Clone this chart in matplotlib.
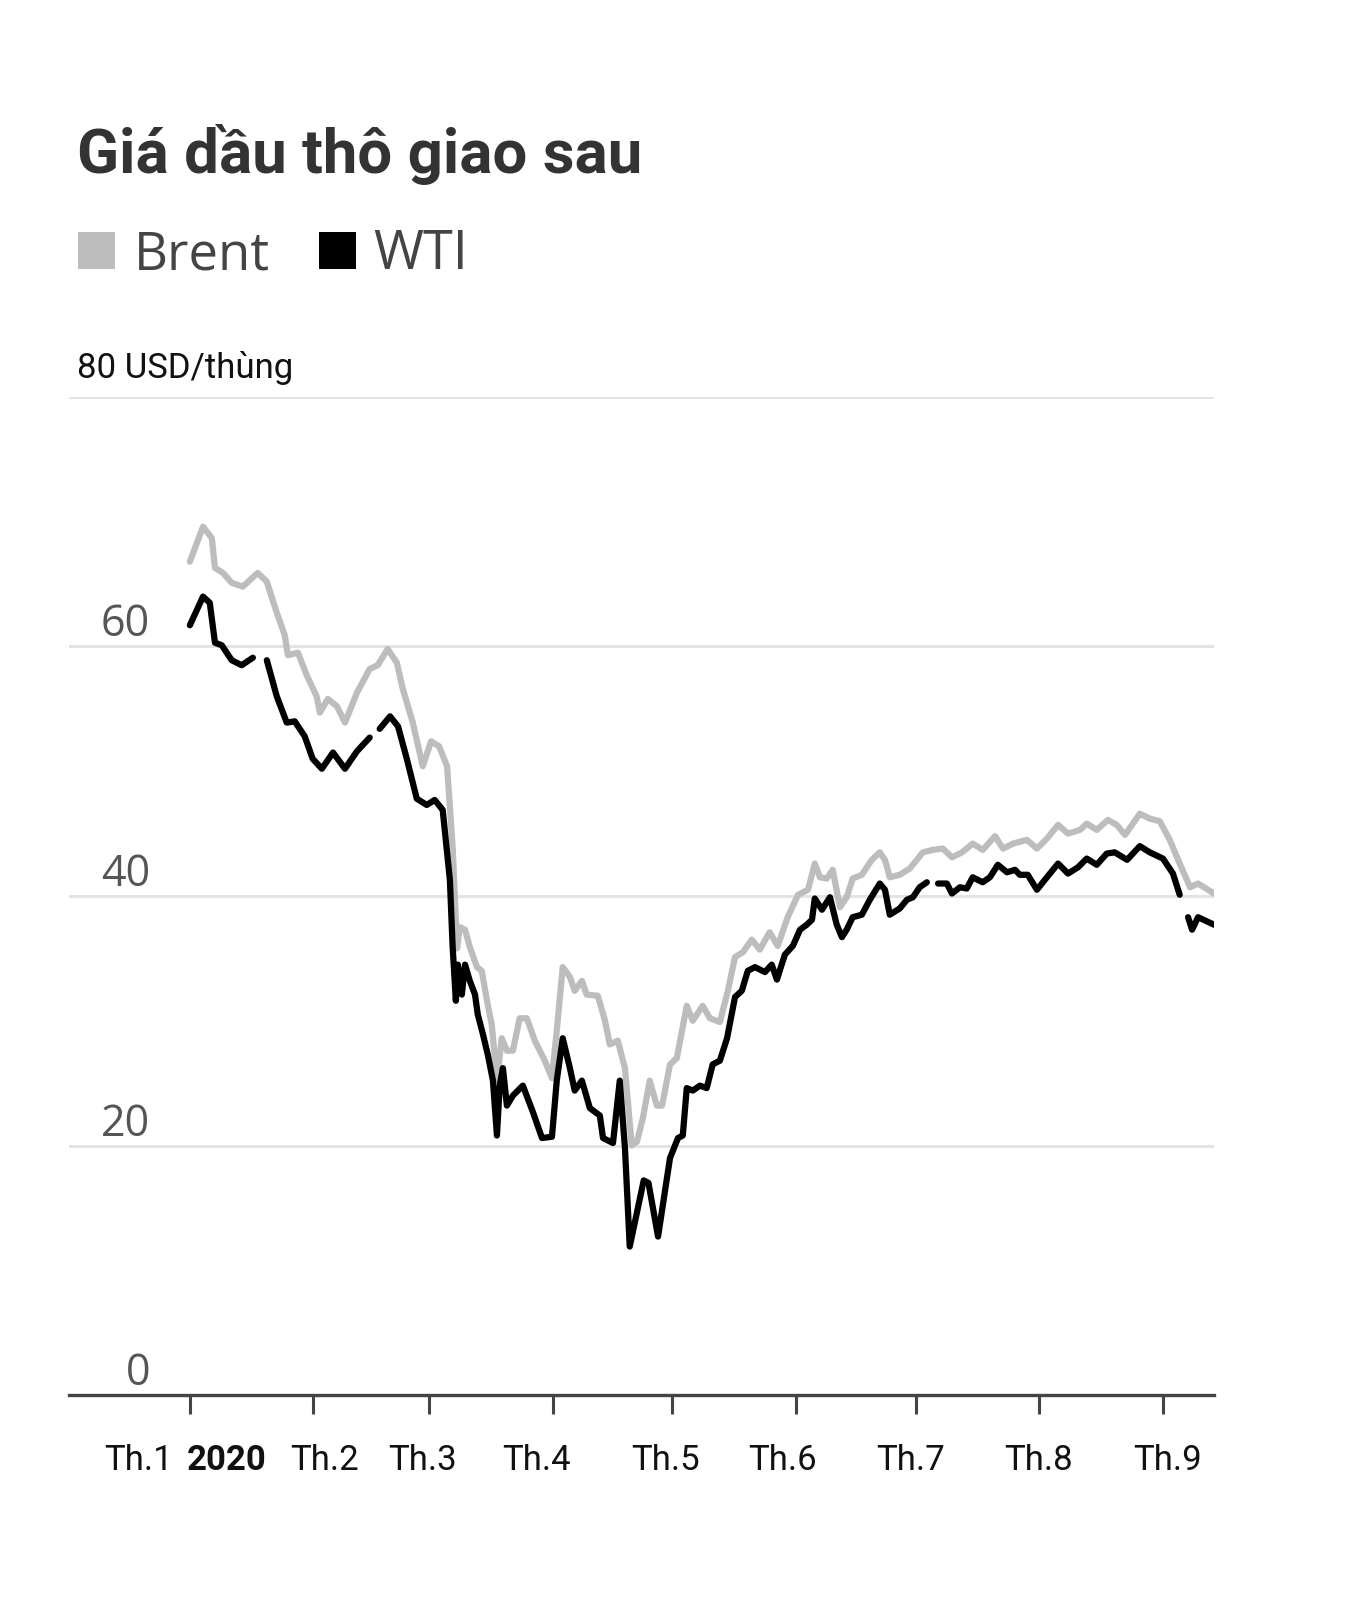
import matplotlib
matplotlib.use("Agg")
import matplotlib.pyplot as plt
import numpy as np
from matplotlib.patches import Rectangle

# ---- data (day of 2020, counted from 1 Jan) ----
brent_day = [0, 3.3, 5.5, 6.3, 8.3, 10.5, 13.3, 17, 19.3, 21.8, 23.8, 24.6, 27.1, 29.3, 31.8, 32.6,
             34.6, 36.9, 38.9, 41.9, 45.1, 47.1, 49.6, 51.9, 53.4, 55.9, 58.4, 60.5, 62.5, 64.5,
             65.9, 67.0, 67.7, 69.0, 70.2, 72.0, 73.2, 74.5, 75.7, 77.0, 78.2, 79.5, 81.0, 82.7,
             84.5, 86.5, 89.0, 90.8, 92.0, 93.5, 95.3, 96.5, 98.3, 99.5, 102.3, 104.1, 105.3,
             107.3, 109.1, 110.8, 112.1, 113.6, 115.3, 117.1, 118.4, 120.4, 122.1, 124.6, 126.1,
             128.6, 130.4, 132.9, 134.9, 136.7, 138.7, 140.9, 142.9, 145.4, 147.4, 149.9, 152.5,
             155.0, 156.7, 158.0, 159.7, 161.2, 163.0, 164.7, 166.2, 168.5, 171.0, 173.0, 174.3,
             175.5, 178.0, 180.5, 182.3, 183.8, 186.3, 188.8, 191.1, 193.6, 196.3, 198.8, 201.9,
             203.9, 206.4, 209.9, 212.4, 214.9, 217.7, 220.2, 223.2, 224.9, 227.4, 230.2, 232.4,
             234.5, 238.2, 240.7, 243.2, 245.7, 248.2, 250.8, 252.8, 256.8]
brent_price = [66.8, 69.6, 68.7, 66.3, 65.9, 65.1, 64.8, 65.9, 65.2, 62.7, 60.9, 59.3, 59.5, 57.7, 56.0, 54.7,
               55.8, 55.2, 53.9, 56.3, 58.2, 58.5, 59.8, 58.7, 56.6, 53.9, 50.4, 52.4, 52.0, 50.4,
               43.9, 35.8, 37.5, 37.3, 35.9, 34.3, 34.0, 31.6, 29.7, 25.2, 28.6, 27.6, 27.6, 30.2,
               30.2, 28.4, 26.8, 25.4, 29.2, 34.3, 33.5, 32.4, 33.2, 32.1, 32.0, 30.0, 28.1,
               28.4, 26.2, 20.0, 20.3, 22.2, 25.2, 23.2, 23.2, 26.5, 27.0, 31.2, 30.0,
               31.2, 30.2, 29.9, 32.4, 35.1, 35.5, 36.5, 35.7, 37.1, 36.0, 38.3, 40.1,
               40.5, 42.6, 41.5, 41.4, 42.1, 39.1, 39.9, 41.4, 41.7, 42.9, 43.5, 42.9,
               41.5, 41.7, 42.2, 42.9, 43.5, 43.7, 43.8, 43.1, 43.5, 44.2, 43.7, 44.8,
               43.8, 44.2, 44.5, 43.8, 44.6, 45.7, 45.0, 45.3, 45.8, 45.3, 46.1, 45.7,
               44.9, 46.6, 46.2, 46.0, 44.5, 42.6, 40.7, 41.0, 40.2]

nan = float("nan")
wti_day = [0, 3.3, 5, 6.3, 8, 10.5, 13, 15.8, 17.5, 19.3, 21.8, 24.3, 26.3, 28.8, 30.8, 33.1, 35.9,
           38.9, 41.9, 45.1, 46.3, 47.6, 50.2, 52.2, 54.4, 56.9, 59.4, 61.4, 63.4, 65.2, 65.9, 66.7,
           67.2, 68.2, 69.0, 70.2, 71.5, 72.2, 73.5, 74.7, 76.0, 77.0, 77.7, 78.5, 79.5, 81.0,
           83.5, 86.0, 88.3, 90.8, 92.0, 93.5, 95.3, 96.5, 98.3, 100.3, 102.8, 103.6, 106.1,
           107.8, 109.1, 110.3, 113.8, 115.0, 117.4, 120.4, 122.4, 123.6, 124.6, 126.1, 127.9,
           129.6, 131.1, 132.9, 134.7, 136.7, 138.4, 139.9, 141.7, 144.2, 145.9, 147.2, 149.2,
           151.2, 153.0, 154.7, 156.0, 156.7, 158.5, 160.5, 162.2, 163.5, 164.7, 166.2, 168.5,
           170.5, 173.0, 174.3, 175.5, 178.0, 179.8, 181.3, 183.0, 184.8, 186.2, 187.6, 189.8,
           191.1, 193.1, 194.8, 196.3, 198.8, 200.6, 202.6, 204.9, 206.9, 208.1, 210.1, 212.4,
           214.9, 217.7, 220.2, 222.7, 224.9, 227.4, 229.9, 231.9, 235.0, 238.2, 240.7, 244.0,
           246.5, 248.2, 249.2, 250.3, 251.3, 252.8, 256.8]
wti_price = [61.7, 64.0, 63.5, 60.3, 60.1, 58.9, 58.5, 59.1, nan, 58.9, 56.0, 53.9, 54.0, 52.8, 51.0, 50.2, 51.5,
             50.2, 51.6, 52.7, nan, 53.4, 54.4, 53.6, 51.0, 47.8, 47.3, 47.7, 46.9, 41.3, 35.9, 31.6,
             34.5, 32.1, 34.5, 33.2, 32.1, 30.5, 28.9, 27.3, 25.2, 20.8, 24.8, 26.2, 23.2, 24.0,
             24.8, 22.7, 20.6, 20.7, 25.2, 28.6, 26.2, 24.4, 25.2, 23.0, 22.4, 20.6, 20.2,
             25.2, 19.8, 11.9, 17.2, 17.0, 12.7, 19.0, 20.6, 20.8, 24.6, 24.4, 24.8,
             24.6, 26.5, 26.8, 28.6, 31.9, 32.4, 34.0, 34.3, 33.9, 34.5, 33.3, 35.3,
             36.0, 37.3, 37.7, 38.1, 39.8, 38.9, 39.9, 37.7, 36.7, 37.3, 38.3, 38.5,
             39.7, 41.0, 40.5, 38.5, 39.0, 39.7, 39.9, 40.7, 41.1, nan, 41.0, 41.0,
             40.2, 40.7, 40.6, 41.5, 41.1, 41.5, 42.5, 41.9, 42.1, 41.7, 41.7, 40.5,
             41.5, 42.6, 41.8, 42.3, 43.0, 42.5, 43.4, 43.5, 42.9, 44.0, 43.5, 43.0,
             41.8, 40.1, nan, 38.3, 37.3, 38.3, 37.7]

month_days = [0, 31, 60, 91, 121, 152, 182, 213, 244]
month_labels = ["Th.1", "Th.2", "Th.3", "Th.4", "Th.5", "Th.6", "Th.7", "Th.8", "Th.9"]
year_label = "2020"
y_ticks = [0, 20, 40, 60, 80]
title = "Giá dầu thô giao sau"
unit_label = "80 USD/thùng"
series_names = ["Brent", "WTI"]
series_colors = ["#bdbdbd", "#000000"]

# style: horizontal nudges (pixels) of month labels relative to their ticks
label_nudge_px = [0, 11, -7, -16, -7, -14, -5, -1, 5]

# ---- figure ----
W, H = 1364, 1600
fig = plt.figure(figsize=(W / 100, H / 100), dpi=100)
fig.patch.set_facecolor("white")

def fx(px):
    return px / W

def fy(py):
    return 1 - py / H

ax = fig.add_axes([fx(69), fy(1395), fx(1214) - fx(69), fy(397) - fy(1395)])
ax.set_xlim(-30.3, 256.8)
ax.set_ylim(0, 80)

for v in y_ticks[1:]:
    ax.axhline(v, color="#e3e3e3", lw=2.2, zorder=0)

ax.plot(brent_day, brent_price, color=series_colors[0], lw=4.5, solid_joinstyle="round",
        solid_capstyle="round", zorder=2)
ax.plot(wti_day, wti_price, color=series_colors[1], lw=4.5, solid_joinstyle="round",
        solid_capstyle="round", zorder=3)

for s in ["top", "right", "left"]:
    ax.spines[s].set_visible(False)
ax.spines["bottom"].set_color("#444444")
ax.spines["bottom"].set_linewidth(2.4)
ax.spines["bottom"].set_zorder(4)

ax.set_yticks([])
ax.set_xticks(month_days)
ax.set_xticklabels([])
ax.tick_params(axis="x", direction="out", length=14, width=2.2, color="#444444")

# y labels
for v in y_ticks[:-1]:
    ax.annotate(str(v), xy=(0, v), xycoords=("axes fraction", "data"),
                xytext=(81, 10), textcoords="offset pixels", ha="right", va="baseline",
                fontsize=31, color="#555555", family="Open Sans")

# x labels
for d, lab, nudge in zip(month_days, month_labels, label_nudge_px):
    if d == 0:
        ax.annotate(lab, xy=(d, 0), xycoords=("data", "axes fraction"),
                    xytext=(-17, -75), textcoords="offset pixels", ha="right", va="baseline",
                    fontsize=25, color="#111111", family="Roboto")
        ax.annotate(year_label, xy=(d, 0), xycoords=("data", "axes fraction"),
                    xytext=(-3, -75), textcoords="offset pixels", ha="left", va="baseline",
                    fontsize=25, color="#111111", family="Roboto", fontweight="bold")
    else:
        ax.annotate(lab, xy=(d, 0), xycoords=("data", "axes fraction"),
                    xytext=(nudge, -75), textcoords="offset pixels", ha="center", va="baseline",
                    fontsize=25, color="#111111", family="Roboto")

# title
fig.text(fx(77), fy(173), title, ha="left", va="baseline", fontsize=44.5,
         fontweight="bold", color="#333333", family="Roboto")

# legend
fig.patches.append(Rectangle((fx(78), fy(269)), fx(37), 37 / H, transform=fig.transFigure,
                             facecolor=series_colors[0], edgecolor="none"))
fig.text(fx(134), fy(269), series_names[0], ha="left", va="baseline", fontsize=38,
         color="#444444", family="Open Sans")
fig.patches.append(Rectangle((fx(319), fy(269)), fx(37), 37 / H, transform=fig.transFigure,
                             facecolor=series_colors[1], edgecolor="none"))
fig.text(fx(373), fy(269), series_names[1], ha="left", va="baseline", fontsize=39,
         color="#444444", family="Open Sans")

# unit label
fig.text(fx(77), fy(378), unit_label, ha="left", va="baseline", fontsize=25,
         color="#111111", family="Roboto")

fig.savefig("out.png", dpi=100, facecolor="white")
